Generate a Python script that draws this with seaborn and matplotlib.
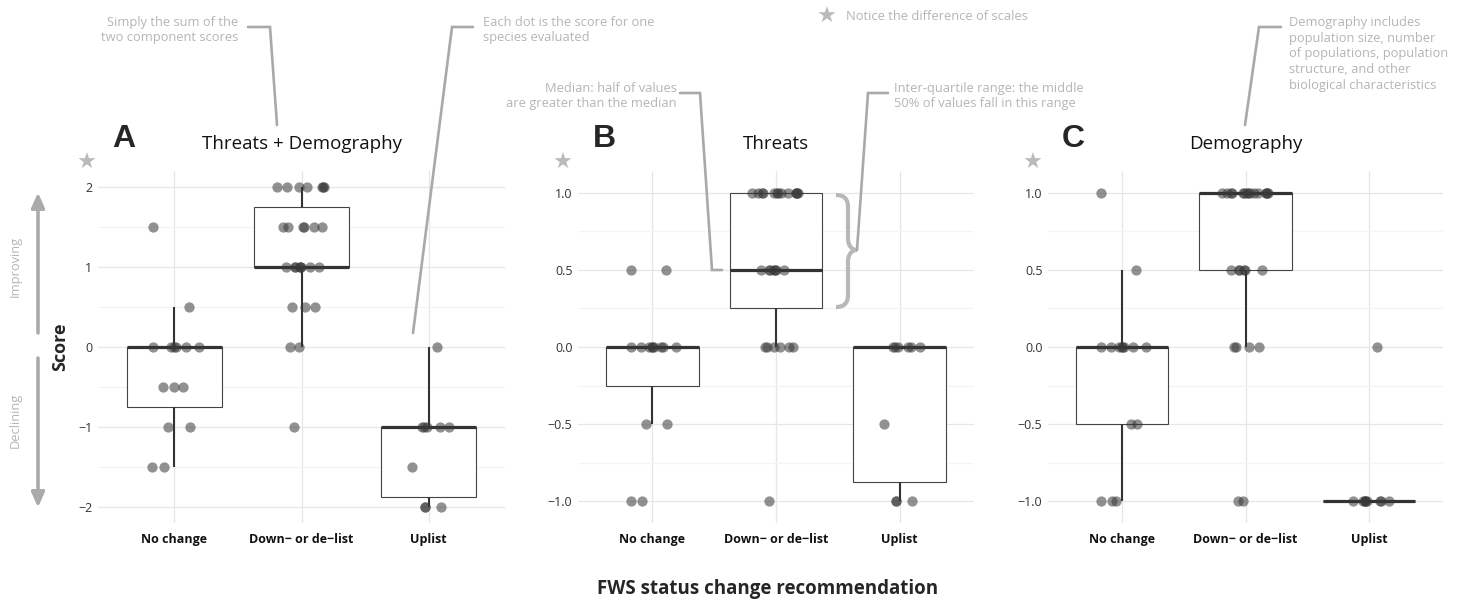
import numpy as np
import pandas as pd
import matplotlib
matplotlib.use("Agg")
import matplotlib.pyplot as plt
import seaborn as sns
from matplotlib.lines import Line2D
from matplotlib.patches import PathPatch
from matplotlib.path import Path

W, H = 1465, 603

categories = ["No change", "Down\u2212 or de\u2212list", "Uplist"]

# Threats + Demography (sum of the two component scores)
total_no_change = [1.5, 0.5, 0, 0, 0, 0, 0, 0, -0.5, -0.5, -0.5, -1, -1, -1.5, -1.5]
total_delist = [2, 2, 2, 2, 2, 2, 2, 1.5, 1.5, 1.5, 1.5, 1.5, 1.5,
                1, 1, 1, 1, 1, 1, 1, 1, 0.5, 0.5, 0.5, 0, 0, -1]
total_uplist = [0, -1, -1, -1, -1, -1, -1.5, -2, -2, -2]

# Threats
threats_no_change = [0.5, 0.5, 0, 0, 0, 0, 0, 0, 0, 0, 0, -0.5, -0.5, -1, -1]
threats_delist = [1, 1, 1, 1, 1, 1, 1, 1, 1, 1, 1, 1, 1,
                  0.5, 0.5, 0.5, 0.5, 0.5, 0.5, 0.5, 0, 0, 0, 0, 0, 0, -1]
threats_uplist = [0, 0, 0, 0, 0, 0, -0.5, -1, -1, -1]

# Demography
demo_no_change = [1, 0.5, 0, 0, 0, 0, 0, 0, 0, 0, -0.5, -0.5, -1, -1, -1]
demo_delist = [1, 1, 1, 1, 1, 1, 1, 1, 1, 1, 1, 1, 1, 1, 1,
               0.5, 0.5, 0.5, 0.5, 0.5, 0.5, 0, 0, 0, 0, -1, -1]
demo_uplist = [0, -1, -1, -1, -1, -1, -1, -1, -1, -1]

panels = [
    ("A", "Threats + Demography", [total_no_change, total_delist, total_uplist],
     [-2, -1, 0, 1, 2], [-1.5, -0.5, 0.5, 1.5], 2.2),
    ("B", "Threats", [threats_no_change, threats_delist, threats_uplist],
     [-1, -0.5, 0, 0.5, 1], [-0.75, -0.25, 0.25, 0.75], 1.14),
    ("C", "Demography", [demo_no_change, demo_delist, demo_uplist],
     [-1, -0.5, 0, 0.5, 1], [-0.75, -0.25, 0.25, 0.75], 1.14),
]

sns.set_style("white")
plt.rcParams["font.family"] = ["Open Sans", "DejaVu Sans"]
plt.rcParams["axes.unicode_minus"] = True

fig = plt.figure(figsize=(W / 100, H / 100), dpi=100)


def fx(x):
    return x / W


def fy(y):
    return 1 - y / H


# axes boxes in pixels: left, right
boxes = [(98, 505), (578, 974), (1048, 1443)]
top_px, bottom_px = 171, 523
letter_x = [124, 604, 1073]
star_x = [87, 563, 1033]
grey_txt = "#b5b5b5"
grey_line = "#a9a9a9"
star_col = "#bababa"

for (letter, title, groups, ticks, minor, lim), (l, r), lx, sx in zip(panels, boxes, letter_x, star_x):
    ax = fig.add_axes([fx(l), fy(bottom_px), (r - l) / W, (bottom_px - top_px) / H])
    rows = []
    for cat, vals in zip(categories, groups):
        for v in vals:
            rows.append({"group": cat, "score": v})
    df = pd.DataFrame(rows)

    sns.boxplot(data=df, x="group", y="score", order=categories, ax=ax,
                width=0.75, color="white", linecolor="#333333", linewidth=0.8,
                showcaps=False, showfliers=False,
                whiskerprops=dict(linewidth=1.5, color="#333333"),
                medianprops=dict(linewidth=2.3, color="#333333"),
                boxprops=dict(edgecolor="#444444", linewidth=0.8))
    np.random.seed(7)
    sns.stripplot(data=df, x="group", y="score", order=categories, ax=ax,
                  jitter=0.2, size=7.4, color="#383838", alpha=0.55, linewidth=0)

    ax.set_xlim(-0.6, 2.6)
    ax.set_ylim(-lim, lim)
    ax.set_yticks(ticks)
    ax.set_yticks(minor, minor=True)
    ax.grid(True, which="major", color="#e6e6e6", linewidth=0.9)
    ax.grid(True, which="minor", axis="y", color="#f4f4f4", linewidth=0.9)
    ax.set_axisbelow(True)
    for s in ax.spines.values():
        s.set_visible(False)
    ax.tick_params(axis="both", which="both", length=0)
    ax.tick_params(axis="y", labelsize=9, labelcolor="#333333", pad=4)
    ax.tick_params(axis="x", labelsize=9, labelcolor="#111111", pad=7)
    for t in ax.get_xticklabels():
        t.set_fontweight("bold")
    ax.set_xlabel("")
    ax.set_ylabel("")
    ax.set_title(title, fontsize=13.5, color="#111111", pad=16)

    fig.text(fx(lx), fy(139), letter, fontsize=23, fontweight="bold",
             family=["Liberation Sans", "DejaVu Sans"], ha="center", va="center")
    fig.text(fx(sx), fy(163), "\u2605", fontsize=16, color=star_col,
             family="DejaVu Sans", ha="center", va="center")

# axis labels
fig.text(fx(60), fy(347), "Score", rotation=90, fontsize=13, fontweight="bold",
         ha="center", va="center")
fig.text(fx(768), fy(589), "FWS status change recommendation", fontsize=13.5,
         fontweight="bold", ha="center", va="center")

# improving / declining arrows
fig.text(fx(15), fy(266), "Improving", rotation=90, fontsize=9.3, color=grey_txt,
         ha="center", va="center")
fig.text(fx(15), fy(420), "Declining", rotation=90, fontsize=9.3, color=grey_txt,
         ha="center", va="center")
arrow = dict(arrowstyle="-|>,head_length=0.9,head_width=0.4", color="#aaaaaa", lw=2.2,
             shrinkA=0, shrinkB=0)
fig.add_artist(plt.annotate("", xy=(fx(38), fy(193)), xytext=(fx(38), fy(333)),
                            xycoords="figure fraction", arrowprops=arrow))
fig.add_artist(plt.annotate("", xy=(fx(38), fy(507)), xytext=(fx(38), fy(358)),
                            xycoords="figure fraction", arrowprops=arrow))


def leader(points):
    xs = [fx(p[0]) for p in points]
    ys = [fy(p[1]) for p in points]
    fig.add_artist(Line2D(xs, ys, transform=fig.transFigure, color=grey_line,
                          lw=1.9, solid_joinstyle="miter"))


note = dict(fontsize=9.3, color=grey_txt, linespacing=1.28, va="center")
fig.text(fx(238), fy(30), "Simply the sum of the\ntwo component scores", ha="right", **note)
leader([(248, 27), (270, 27), (277, 125)])

fig.text(fx(483), fy(30), "Each dot is the score for one\nspecies evaluated", ha="left", **note)
leader([(473, 27), (452, 27), (413, 333)])

fig.text(fx(827), fy(17), "\u2605", fontsize=16, color=star_col, family="DejaVu Sans",
         ha="center", va="center")
fig.text(fx(846), fy(17), "Notice the difference of scales", ha="left", **note)

fig.text(fx(677), fy(96), "Median: half of values\nare greater than the median", ha="right", **note)
leader([(680, 93), (700, 93), (712, 270), (722, 270)])

fig.text(fx(894), fy(96), "Inter-quartile range: the middle\n50% of values fall in this range",
         ha="left", **note)
leader([(888, 93), (868, 93), (857, 250)])

fig.text(fx(1289), fy(54), "Demography includes\npopulation size, number\nof populations, population\n"
         "structure, and other\nbiological characteristics", ha="left", **note)
leader([(1281, 27), (1259, 27), (1245, 125)])

# curly brace marking the inter-quartile range of panel B
brace_px = [(836, 195), (844, 195), (848, 199), (848, 207),
            (848, 238),
            (848, 246), (852, 250), (857, 250),
            (852, 250), (848, 254), (848, 262),
            (848, 295),
            (848, 303), (844, 307), (836, 307)]
codes = [Path.MOVETO, Path.CURVE4, Path.CURVE4, Path.CURVE4,
         Path.LINETO,
         Path.CURVE4, Path.CURVE4, Path.CURVE4,
         Path.CURVE4, Path.CURVE4, Path.CURVE4,
         Path.LINETO,
         Path.CURVE4, Path.CURVE4, Path.CURVE4]
brace = Path([(fx(x), fy(y)) for x, y in brace_px], codes)
fig.add_artist(PathPatch(brace, transform=fig.transFigure, fill=False,
                         edgecolor="#b8b8b8", lw=3.0, capstyle="butt"))

fig.savefig("out.png", dpi=100)
